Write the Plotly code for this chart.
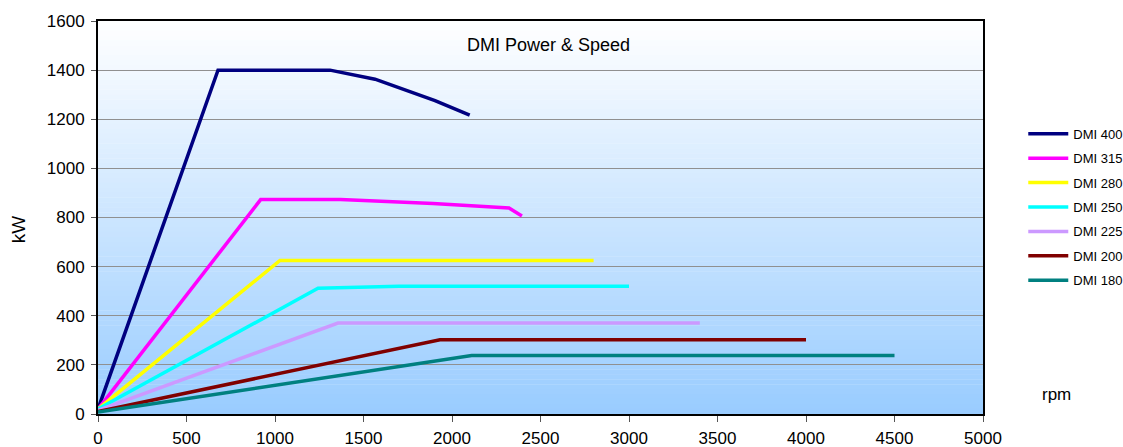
import plotly.graph_objects as go

series_names = ["DMI 400", "DMI 315", "DMI 280", "DMI 250", "DMI 225", "DMI 200", "DMI 180"]
rpm_400 = [0, 678, 1311, 1565, 1904, 2100]
kw_400 = [20, 1400, 1400, 1363, 1276, 1217]
rpm_315 = [0, 919, 1370, 1893, 2322, 2395]
kw_315 = [20, 873, 873, 857, 839, 806]
rpm_280 = [0, 1028, 2800]
kw_280 = [20, 625, 625]
rpm_250 = [0, 1243, 1700, 3000]
kw_250 = [20, 512, 520, 520]
rpm_225 = [0, 1356, 3400]
kw_225 = [15, 370, 370]
rpm_200 = [0, 1932, 4000]
kw_200 = [10, 302, 302]
rpm_180 = [0, 2111, 4500]
kw_180 = [8, 238, 238]
colors = ["#000080", "#FF00FF", "#FFFF00", "#00FFFF", "#CC99FF", "#800000", "#008080"]

all_rpm = [rpm_400, rpm_315, rpm_280, rpm_250, rpm_225, rpm_200, rpm_180]
all_kw = [kw_400, kw_315, kw_280, kw_250, kw_225, kw_200, kw_180]

fig = go.Figure()
for name, xs, ys, c in zip(series_names, all_rpm, all_kw, colors):
    fig.add_trace(go.Scatter(x=xs, y=ys, mode="lines", name=name, legendgroup=name,
                             line=dict(color=c, width=3.5)))

# gradient background
n = 80
top = (255, 255, 255)
bot = (153, 204, 255)
shapes = []
for i in range(n):
    t = (i + 0.5) / n
    col = tuple(round(top[k] + (bot[k] - top[k]) * t) for k in range(3))
    shapes.append(dict(type="rect", xref="x domain", yref="y domain",
                       x0=0, x1=1, y0=1 - (i + 1) / n, y1=1 - i / n + 0.001,
                       fillcolor="rgb(%d,%d,%d)" % col, line=dict(width=0),
                       layer="below"))

fig.update_layout(
    width=1123, height=447,
    margin=dict(l=98, r=140, t=21, b=33, autoexpand=False),
    paper_bgcolor="white", plot_bgcolor="rgba(0,0,0,0)",
    font=dict(family="Liberation Sans, Arial, sans-serif", size=16, color="black"),
    shapes=shapes,
    showlegend=True,
    legend=dict(x=1.0455, y=0.751, xanchor="left", yanchor="top",
                font=dict(size=13), bgcolor="rgba(0,0,0,0)",
                tracegroupgap=4.5, itemwidth=40),
    annotations=[
        dict(text="DMI Power & Speed", x=0.5, y=0.94, xref="paper", yref="paper",
             xshift=8, showarrow=False, font=dict(size=18),
             xanchor="center", yanchor="middle"),
        dict(text="rpm", x=1.064, y=0.05, xref="paper", yref="paper",
             showarrow=False, font=dict(size=17), xanchor="left", yanchor="middle"),
        dict(text="kW", x=0, y=0.47, xref="paper", yref="paper", xshift=-80,
             showarrow=False, font=dict(size=19), textangle=-90,
             xanchor="center", yanchor="middle"),
    ],
)
fig.update_xaxes(range=[0, 5000], dtick=500, showgrid=False, showline=True,
                 linecolor="black", linewidth=2, mirror=True, ticks="outside",
                 ticklen=6, tickcolor="#555", zeroline=False, automargin=False,
                 tickfont=dict(size=17), ticklabelstandoff=2)
fig.update_yaxes(range=[0, 1600], dtick=200, showgrid=True, gridcolor="#909090",
                 gridwidth=1, showline=True, linecolor="black", linewidth=2,
                 mirror=True, ticks="outside", ticklen=5, tickcolor="#555",
                 zeroline=False, automargin=False, tickfont=dict(size=17),
                 ticklabelstandoff=3)

fig.write_html(
    "out.html",
    config={"displayModeBar": False, "responsive": False},
    post_script=("document.documentElement.style.margin='0';"
                 "document.documentElement.style.overflow='hidden';"
                 "document.body.style.margin='0';"
                 "document.body.style.padding='0';"
                 "document.body.style.overflow='hidden';"),
)
